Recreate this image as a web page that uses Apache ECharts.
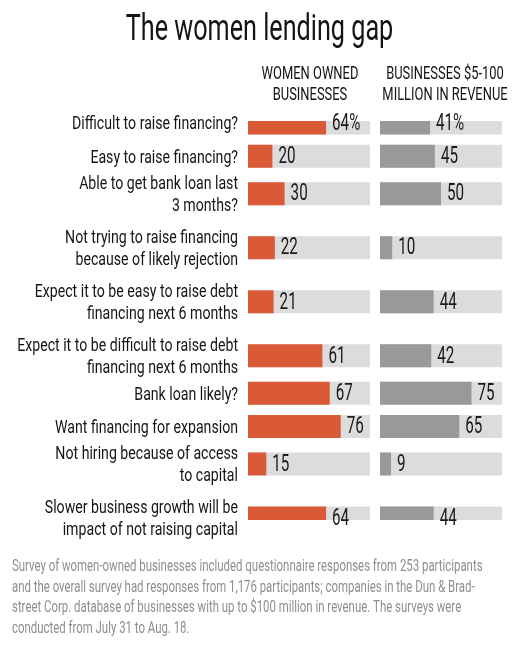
<!DOCTYPE html>
<html>
<head>
<meta charset="utf-8">
<script src="https://cdn.jsdelivr.net/npm/echarts@6/dist/echarts.min.js"></script>
<style>
html,body{margin:0;padding:0;background:#fff;}
#chart{width:519px;height:650px;}
</style>
</head>
<body>
<div id="chart"></div>
<script>
// ---- data ----
const categories = [
  'Difficult to raise financing?',
  'Easy to raise financing?',
  'Able to get bank loan last\n3 months?',
  'Not trying to raise financing\nbecause of likely rejection',
  'Expect it to be easy to raise debt\nfinancing next 6 months',
  'Expect it to be difficult to raise debt\nfinancing next 6 months',
  'Bank loan likely?',
  'Want financing for expansion',
  'Not hiring because of access\nto capital',
  'Slower business growth will be\nimpact of not raising capital'
];
const womenOwned = [64, 20, 30, 22, 21, 61, 67, 76, 15, 64];
const midsizeBusinesses = [41, 45, 50, 10, 44, 42, 75, 65, 9, 44];
const columnHeaders = ['WOMEN OWNED\nBUSINESSES', 'BUSINESSES $5-100\nMILLION IN REVENUE'];
const titleText = 'The women lending gap';
const footnote = 'Survey of women-owned businesses included questionnaire responses from 253 participants\nand the overall survey had responses from 1,176 participants; companies in the Dun & Brad-\nstreet Corp. database of businesses with up to $100 million in revenue. The surveys were\nconducted from July 31 to Aug. 18.';

// ---- layout helpers ----
const FONT = "Roboto, 'Liberation Sans', sans-serif";
const NARROW = 0.744; // horizontal squeeze to mimic the condensed typeface
// rows with two-line labels get more room: spacing in slot units by neighbouring line counts
const lineCount = categories.map(c => c.split('\n').length);
function gapUnits(a, b) {
  if (a === 1 && b === 1) return 8;
  if (a === 2 && b === 2) return 13;
  return 9;
}
const slotIndex = [];
let pos = 0;
categories.forEach((c, i) => {
  if (i > 0) pos += gapUnits(lineCount[i - 1], lineCount[i]);
  slotIndex.push(pos);
});
const nSlots = pos + 1;
const slotLabels = new Array(nSlots).fill('');
slotIndex.forEach((s, i) => { slotLabels[s] = categories[i]; });
function spread(values) {
  const arr = new Array(nSlots).fill('-');
  slotIndex.forEach((s, i) => { arr[s] = values[i]; });
  return arr;
}
const full = spread(categories.map(() => 100));

const chart = echarts.init(document.getElementById('chart'));
const slotPx = 395 / pos;
const gridTop = 123 - slotPx / 2, gridH = slotPx * nSlots;
const option = {
  backgroundColor: '#fff',
  animation: false,
  grid: [
    { left: 248, width: 122, top: gridTop, height: gridH, outerBoundsMode: 'none', containLabel: false },
    { left: 380, width: 122, top: gridTop, height: gridH, outerBoundsMode: 'none', containLabel: false }
  ],
  xAxis: [
    { gridIndex: 0, type: 'value', min: 0, max: 100, show: false },
    { gridIndex: 1, type: 'value', min: 0, max: 100, show: false }
  ],
  yAxis: [
    {
      gridIndex: 0, type: 'category', data: slotLabels, inverse: true,
      axisLine: { show: false }, axisTick: { show: false }, axisLabel: { show: false }
    },
    {
      gridIndex: 1, type: 'category', data: slotLabels, inverse: true,
      axisLine: { show: false }, axisTick: { show: false }, axisLabel: { show: false }
    }
  ],
  series: [
    {
      type: 'bar', xAxisIndex: 0, yAxisIndex: 0, data: full, barWidth: 23,
      itemStyle: { color: '#dcdcdc' }, silent: true, barGap: '-100%'
    },
    {
      type: 'bar', xAxisIndex: 0, yAxisIndex: 0, data: spread(womenOwned), barWidth: 23,
      itemStyle: { color: '#da5a37' }, barGap: '-100%'
    },
    {
      type: 'bar', xAxisIndex: 1, yAxisIndex: 1, data: full, barWidth: 23,
      itemStyle: { color: '#dcdcdc' }, silent: true, barGap: '-100%'
    },
    {
      type: 'bar', xAxisIndex: 1, yAxisIndex: 1, data: spread(midsizeBusinesses), barWidth: 23,
      itemStyle: { color: '#999999' }, barGap: '-100%'
    }
  ]
};
chart.setOption(option);

// ---- text, placed through the axes' own scales ----
function txt(x, y, text, size, lh, fill, align, vAlign, scale) {
  return {
    type: 'text', x: x, y: y, scaleX: scale, scaleY: 1, silent: true, z: 100,
    style: {
      text: text, fontFamily: FONT, fontSize: size, lineHeight: lh,
      fill: fill, align: align, verticalAlign: vAlign
    }
  };
}
const graphics = [];
graphics.push(txt(259.5, 31, titleText, 36, 40, '#141414', 'center', 'middle', 0.70));
graphics.push(txt(310, 85, columnHeaders[0], 19, 21, '#141414', 'center', 'middle', 0.68));
graphics.push(txt(445, 85, columnHeaders[1], 19, 21, '#141414', 'center', 'middle', 0.68));
graphics.push(txt(12, 598, footnote, 16, 20.8, '#8e8e8e', 'left', 'middle', 0.713));

const labelRight = chart.convertToPixel({ xAxisIndex: 0 }, 0) - 10;
categories.forEach((c, i) => {
  const y = chart.convertToPixel({ yAxisIndex: 0 }, slotIndex[i]);
  graphics.push(txt(labelRight, y + 1.5, c, 19, 22, '#141414', 'right', 'middle', NARROW));
  const suffix = i === 0 ? '%' : '';
  const xa = chart.convertToPixel({ xAxisIndex: 0 }, womenOwned[i]) + 6;
  graphics.push(txt(xa, y + 1, womenOwned[i] + suffix, 23, 24, '#1a1a1a', 'left', 'middle', 0.66));
  const xb = chart.convertToPixel({ xAxisIndex: 1 }, midsizeBusinesses[i]) + 6;
  graphics.push(txt(xb, y + 1, midsizeBusinesses[i] + suffix, 23, 24, '#1a1a1a', 'left', 'middle', 0.66));
});
chart.setOption({ graphic: graphics });
</script>
</body>
</html>
